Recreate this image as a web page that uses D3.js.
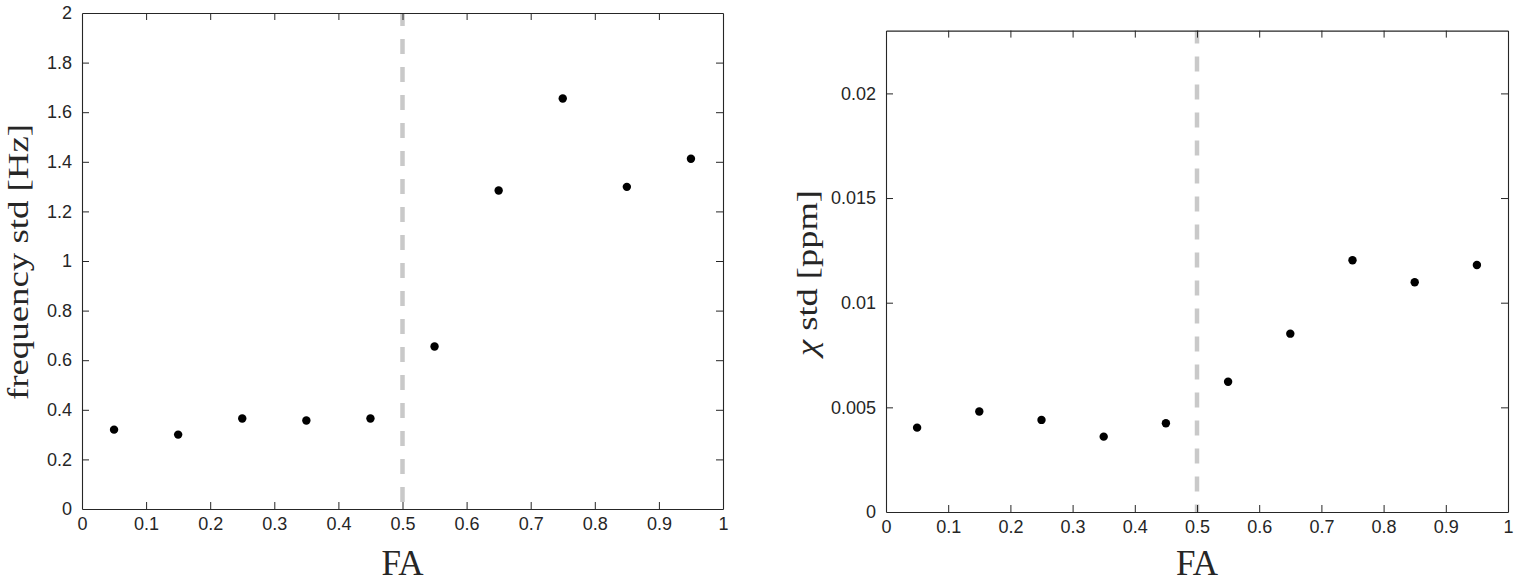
<!DOCTYPE html>
<html>
<head>
<meta charset="utf-8">
<script src="https://cdn.jsdelivr.net/npm/d3@7"></script>
<style>
  body { margin: 0; background: #fff; }
  svg { display: block; }
</style>
</head>
<body>
<div id="chart"></div>
<script>
// data
var faValues = [0.05, 0.15, 0.25, 0.35, 0.45, 0.55, 0.65, 0.75, 0.85, 0.95];
var freqStd = [0.32, 0.30, 0.365, 0.357, 0.365, 0.655, 1.284, 1.655, 1.299, 1.412];
var chiStd = [0.00403, 0.0048, 0.0044, 0.0036, 0.00424, 0.00622, 0.00852, 0.01203, 0.01098, 0.0118];
var xTicks = [0, 0.1, 0.2, 0.3, 0.4, 0.5, 0.6, 0.7, 0.8, 0.9, 1];
var freqTicks = [0, 0.2, 0.4, 0.6, 0.8, 1, 1.2, 1.4, 1.6, 1.8, 2];
var chiTicks = [0, 0.005, 0.01, 0.015, 0.02];
var cutoff = 0.5;

var svgWidth = 1536;
var svgHeight = 584;

var svg = d3.select("#chart")
  .append("svg")
  .attr("width", svgWidth)
  .attr("height", svgHeight);

var fmt = function(d) { return String(+d.toFixed(4)); };
var ink = "#262626";

// one panel = box with inward ticks, dashed cutoff line, dots
function drawPanel(p) {
  var x = d3.scaleLinear().domain([0, 1]).range([p.left, p.right]);
  var y = d3.scaleLinear().domain(p.yDomain).range([p.bottom, p.top]);
  var g = svg.append("g");

  // dashed cutoff line (drawn first, under the box)
  g.append("line")
    .attr("x1", x(cutoff)).attr("x2", x(cutoff))
    .attr("y1", y(p.yDomain[1])).attr("y2", y(0))
    .attr("stroke", "#c9c9c9")
    .attr("stroke-width", 4.5)
    .attr("stroke-dasharray", "15,13")
    .attr("stroke-dashoffset", 2);

  var tick = 7;

  var bottom = g.append("g")
    .attr("transform", `translate(0, ${p.bottom})`)
    .call(d3.axisBottom(x).tickValues(xTicks).tickFormat(fmt)
      .tickSizeInner(-tick).tickSizeOuter(0).tickPadding(8));

  var left = g.append("g")
    .attr("transform", `translate(${p.left}, 0)`)
    .call(d3.axisLeft(y).tickValues(p.yTicks).tickFormat(fmt)
      .tickSizeInner(-tick).tickSizeOuter(0).tickPadding(10));

  var topAx = g.append("g")
    .attr("transform", `translate(0, ${p.top})`)
    .call(d3.axisTop(x).tickValues(xTicks).tickFormat("")
      .tickSizeInner(-tick).tickSizeOuter(0));

  var rightAx = g.append("g")
    .attr("transform", `translate(${p.right}, 0)`)
    .call(d3.axisRight(y).tickValues(p.yTicks).tickFormat("")
      .tickSizeInner(-tick).tickSizeOuter(0));

  [bottom, left, topAx, rightAx].forEach(function(a) {
    a.select(".domain").attr("stroke", ink).attr("stroke-width", 1.1);
    a.selectAll(".tick line").attr("stroke", ink).attr("stroke-width", 1);
    a.selectAll("text")
      .attr("font-family", "'Liberation Sans', Arial, sans-serif")
      .attr("font-size", 18)
      .attr("fill", ink);
  });
  // the edge ticks at the box corners are hidden by the box
  bottom.selectAll(".tick").filter(function(d) { return d === 0 || d === 1; })
    .select("line").remove();
  topAx.selectAll(".tick").filter(function(d) { return d === 0 || d === 1; })
    .select("line").remove();
  left.selectAll(".tick").filter(function(d) { return d === 0 || d === p.yDomain[1]; })
    .select("line").remove();
  rightAx.selectAll(".tick").filter(function(d) { return d === 0 || d === p.yDomain[1]; })
    .select("line").remove();

  // points
  g.selectAll("circle")
    .data(faValues.map(function(fa, i) { return {fa: fa, v: p.values[i]}; }))
    .enter()
    .append("circle")
    .attr("cx", function(d) { return x(d.fa); })
    .attr("cy", function(d) { return y(d.v); })
    .attr("r", 4.2)
    .attr("fill", "#000");

  // x label
  g.append("text")
    .attr("x", (p.left + p.right) / 2)
    .attr("y", 575)
    .attr("text-anchor", "middle")
    .attr("font-family", "'Liberation Serif', 'Times New Roman', serif")
    .attr("font-size", 35)
    .attr("fill", ink)
    .text("FA");

  // y label
  var yl = g.append("text")
    .attr("transform", `translate(${p.labelX}, ${p.labelY}) rotate(-90)`)
    .attr("text-anchor", "middle")
    .attr("font-family", "'Liberation Serif', 'Times New Roman', serif")
    .attr("font-size", 30)
    .attr("fill", ink)
    .attr("textLength", p.labelLen)
    .attr("lengthAdjust", "spacingAndGlyphs");
  p.label(yl);
}

drawPanel({
  left: 82, right: 723, top: 13, bottom: 509,
  yDomain: [0, 2], yTicks: freqTicks, values: freqStd,
  labelX: 28, labelY: 262, labelLen: 276,
  label: function(t) { t.text("frequency std [Hz]"); }
});

drawPanel({
  left: 886, right: 1508, top: 30.6, bottom: 512,
  yDomain: [0, 0.023], yTicks: chiTicks, values: chiStd,
  labelX: 817, labelY: 273, labelLen: 166,
  label: function(t) {
    t.append("tspan").attr("font-style", "italic").text("χ");
    t.append("tspan").text(" std [ppm]");
  }
});
</script>
</body>
</html>
